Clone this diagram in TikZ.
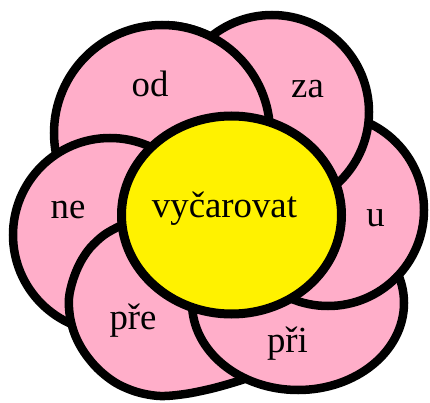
\documentclass[tikz,border=0pt]{standalone}
\usepackage{fontspec}
\setmainfont{Liberation Serif}
\definecolor{rose}{HTML}{FFAEC9}
\definecolor{sun}{HTML}{FFF200}
\begin{document}
\begin{tikzpicture}[x=1pt,y=-1pt,
  petal/.style={fill=rose,draw=black,line width=8.5pt},
  core/.style={fill=sun,draw=black,line width=9pt},
  lbl/.style={anchor=base,inner sep=0pt,text=black,font=\fontsize{36.8}{44}\selectfont}]
\useasboundingbox (0,0) rectangle (430,403);
\fill[white] (0,0) rectangle (430,403);
% petal "od" (bottom of the cycle)
\draw[petal] (162,133) circle [radius=108pt];
% petal "ne"
\draw[petal] (110,235) circle [radius=97pt];
% petal "pře"
\draw[petal] plot[smooth cycle,tension=0.55] coordinates {
  (120,226) (104,235) (90,248) (80,263) (73,280) (69,298) (70,317)
  (75,335) (84,352) (98,369) (116,383) (137,392) (160,396) (185,394)
  (210,389) (232,383) (250,377) (268,368) (283,345) (290,315) (285,285)
  (268,258) (245,238) (215,222) (185,214) (155,216) (135,220)};
% petal "při"
\draw[petal] (298,303) ellipse [x radius=106pt, y radius=87pt];
% petal "u"
\draw[petal] (328,210) circle [radius=96pt];
% petal "za"
\draw[petal] (272,112) circle [radius=97pt];
% close the pinwheel: "od" lies over "za"
\begin{scope}
  \clip (168,-10) rectangle (440,145);
  \draw[petal] (162,133) circle [radius=108pt];
\end{scope}
% centre
\draw[core] (231.5,215) ellipse [x radius=110pt, y radius=99pt];
% labels
\node[lbl] (od)  at (150,97)    {od};
\node[lbl] (za)  at (307.5,98)  {za};
\node[lbl] (ne)  at (68,218)    {ne};
\node[lbl] (u)   at (375.5,226.5) {u};
\node[lbl] (pre) at (133,329)   {pře};
\node[lbl] (pri) at (287.5,352) {při};
\node[lbl] (vy)  at (224.5,217) {vyčarovat};
\end{tikzpicture}
\end{document}
